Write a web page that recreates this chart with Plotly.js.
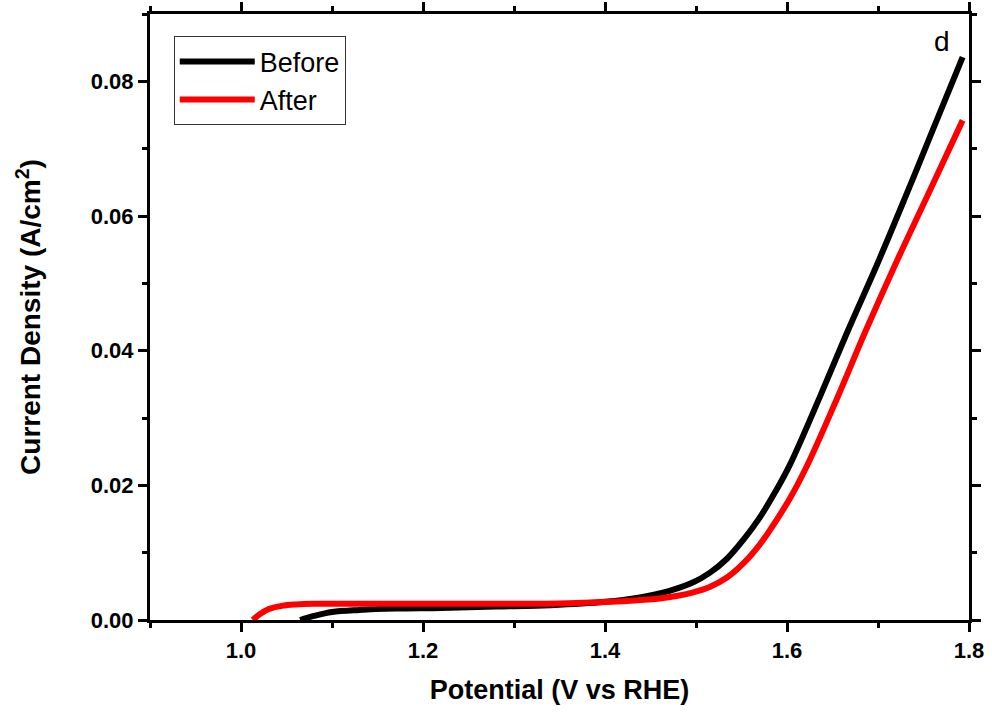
<!DOCTYPE html>
<html>
<head>
<meta charset="utf-8">
<script src="https://cdn.plot.ly/plotly-3.0.1.min.js"></script>
<style>html,body{margin:0;padding:0;background:#fff;}#chart{width:992px;height:714px;}</style>
</head>
<body>
<div id="chart"></div>
<script>
// Data
const beforeX = [1.065, 1.08, 1.10, 1.13, 1.17, 1.22, 1.28, 1.34, 1.40, 1.44, 1.47, 1.497, 1.515, 1.534, 1.552, 1.570, 1.587, 1.603, 1.636, 1.667, 1.699, 1.73, 1.76, 1.793];
const beforeY = [0, 0.0006, 0.0012, 0.0015, 0.0017, 0.0018, 0.0020, 0.0022, 0.0027, 0.0034, 0.0043, 0.0056, 0.0070, 0.0091, 0.0119, 0.0152, 0.0190, 0.0230, 0.0331, 0.0430, 0.0528, 0.0628, 0.0727, 0.0836];
const afterX = [1.013, 1.02, 1.03, 1.045, 1.06, 1.08, 1.2, 1.3, 1.36, 1.42, 1.46, 1.48, 1.497, 1.515, 1.534, 1.552, 1.570, 1.583, 1.603, 1.622, 1.655, 1.686, 1.719, 1.756, 1.793];
const afterY = [0, 0.0008, 0.0016, 0.0021, 0.0023, 0.0024, 0.0024, 0.0024, 0.0025, 0.0028, 0.0032, 0.0036, 0.0041, 0.0049, 0.0063, 0.0084, 0.0112, 0.0137, 0.0180, 0.0229, 0.0329, 0.0428, 0.0528, 0.0635, 0.0742];
const seriesNames = ["Before", "After"];
const panelLabel = "d";

const fontFam = "Arial, 'Liberation Sans', sans-serif";

const traces = [
  {x: beforeX, y: beforeY, name: seriesNames[0], type: 'scatter', mode: 'lines',
   line: {color: '#000000', width: 6, shape: 'spline', smoothing: 1}},
  {x: afterX, y: afterY, name: seriesNames[1], type: 'scatter', mode: 'lines',
   line: {color: '#ff0000', width: 6, shape: 'spline', smoothing: 1}}
];

const axisCommon = {
  showline: true, linecolor: '#000', linewidth: 3, mirror: 'allticks',
  ticks: 'outside', ticklen: 9, tickwidth: 3, tickcolor: '#000',
  showgrid: false, zeroline: false,
  tickfont: {family: fontFam, size: 22, color: '#000', weight: 'bold'}
};

const layout = {
  width: 992, height: 714,
  margin: {l: 150, r: 23, t: 14, b: 94},
  paper_bgcolor: '#fff', plot_bgcolor: '#fff',
  showlegend: true,
  legend: {x: 0.029, y: 0.963, xanchor: 'left', yanchor: 'top',
    bordercolor: '#333', borderwidth: 1, bgcolor: '#fff',
    font: {family: fontFam, size: 27, color: '#000'}, tracegroupgap: 0, itemwidth: 75},
  xaxis: Object.assign({}, axisCommon, {
    range: [0.9, 1.8], dtick: 0.2, tick0: 1.0, tickformat: '.1f',
    minor: {dtick: 0.1, ticks: 'outside', ticklen: 5, tickwidth: 3, tickcolor: '#000'},
    title: {text: 'Potential (V vs RHE)', standoff: 18,
      font: {family: fontFam, size: 27, color: '#000', weight: 'bold'}}
  }),
  yaxis: Object.assign({}, axisCommon, {
    range: [0, 0.09], dtick: 0.02, tick0: 0, tickformat: '.2f',
    minor: {dtick: 0.01, ticks: 'outside', ticklen: 5, tickwidth: 3, tickcolor: '#000'},
    title: {text: 'Current Density (A/cm<sup>2</sup>)', standoff: 42,
      font: {family: fontFam, size: 28, color: '#000', weight: 'bold'}}
  }),
  annotations: [{
    text: panelLabel, xref: 'paper', yref: 'paper', x: 0.967, y: 0.955,
    xanchor: 'center', yanchor: 'middle', showarrow: false,
    font: {family: fontFam, size: 28, color: '#000'}
  }]
};

Plotly.newPlot('chart', traces, layout, {displayModeBar: false, staticPlot: true});
</script>
</body>
</html>
